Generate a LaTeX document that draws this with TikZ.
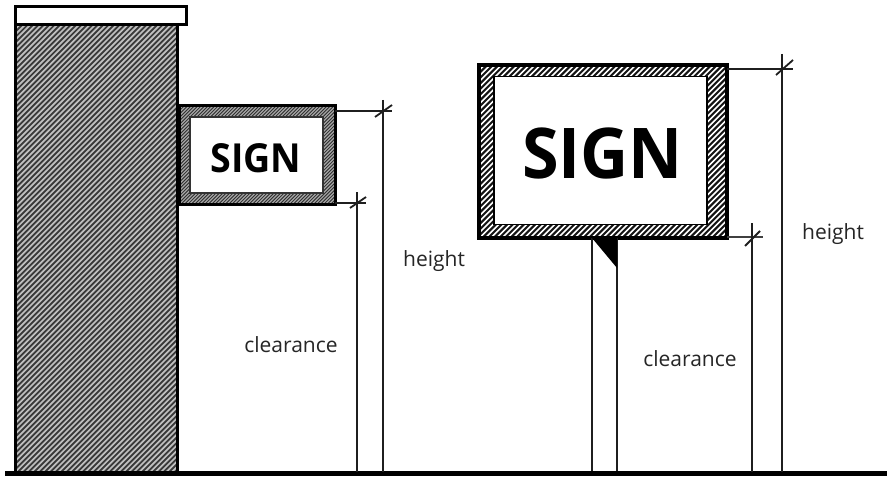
\documentclass[tikz,border=0pt]{standalone}
\usepackage{fontspec}
\setmainfont{Open Sans}
\newcommand{\hatchbox}[7]{%
  \begin{scope}
    \clip (#1,#2) rectangle (#3,#4);
    \fill[#5] (#1,#2) rectangle (#3,#4);
    \pgfmathsetmacro{\hstart}{#1-(#4-#2)}
    \pgfmathsetmacro{\hnext}{\hstart+#7}
    \foreach \hx in {\hstart,\hnext,...,#3}
      \draw[#6] (\hx,#4) -- ++(#4-#2,#2-#4);
  \end{scope}}
\tikzset{
  outline/.style={draw=black,line width=3pt},
  thinline/.style={draw=black!88,line width=1.8pt},
  signlabel/.style={inner sep=0pt},
  dimlabel/.style={font=\fontsize{21}{24}\selectfont,text=black!85,inner sep=0pt}
}
\begin{document}
\begin{tikzpicture}[x=1pt,y=-1pt]
\useasboundingbox (0,0) rectangle (890,476);
\fill[white] (0,0) rectangle (890,476);

% building
\hatchbox{15}{24}{177}{472}{black!78}{draw=black!25,line width=1.7pt}{5.4}
\draw[outline] (15,472) -- (15,24) -- (177,24) -- (177,472);
\node[draw=black,line width=3pt,fill=white,minimum width=171pt,minimum height=18pt,inner sep=0pt] (cap) at (100.5,16) {};

% left sign
\hatchbox{179}{106}{335}{204}{black!82}{draw=black!35,line width=1.2pt}{3.4}
\draw[outline] (179,106) rectangle (335,204);
\node[draw=black!80,line width=1.2pt,fill=white,minimum width=133pt,minimum height=76pt,inner sep=0pt] (signA) at (256.5,155) {};
\node[signlabel,font=\fontsize{40}{44}\bfseries\selectfont] (signAtext) at (256,158) {\scalebox{0.94}[1]{SIGN}};

% right sign
\hatchbox{479}{65}{727}{238}{black!92}{draw=white,line width=1.6pt}{5.6}
\draw[draw=black,line width=3.4pt] (479,65) rectangle (727,238);
\node[draw=black,line width=1.4pt,fill=white,minimum width=213pt,minimum height=148pt,inner sep=0pt] (signB) at (600.5,150.5) {};
\node[signlabel,font=\fontsize{70}{76}\bfseries\selectfont] (signBtext) at (602.5,153.5) {\scalebox{0.95}[1]{SIGN}};

% post
\coordinate (postLt) at (592,238);
\coordinate (postLb) at (592,472);
\coordinate (postRt) at (617,238);
\coordinate (postRb) at (617,472);
\coordinate (brace) at (617,268);
\draw[thinline] (postLt) -- (postLb);
\draw[thinline] (postRt) -- (postRb);
\fill[black] (postLt) -- (postRt) -- (brace) -- cycle;

% ground
\fill[black] (5,471) rectangle (887,476);

% dimension coordinates
\coordinate (aTop) at (335,111);
\coordinate (aTopEnd) at (392,111);
\coordinate (aHt) at (383,100);
\coordinate (aHb) at (383,472);
\coordinate (aTa) at (375,117);
\coordinate (aTb) at (392,105);
\coordinate (aBot) at (335,203);
\coordinate (aBotEnd) at (366,203);
\coordinate (aCt) at (357,192);
\coordinate (aCb) at (357,472);
\coordinate (aBa) at (350,208);
\coordinate (aBb) at (366,197);
\coordinate (bTop) at (727,69);
\coordinate (bTopEnd) at (793,69);
\coordinate (bHt) at (782,54);
\coordinate (bHb) at (782,472);
\coordinate (bTa) at (776,75);
\coordinate (bTb) at (793,60);
\coordinate (bBot) at (727,237);
\coordinate (bBotEnd) at (763,237);
\coordinate (bCt) at (752,223);
\coordinate (bCb) at (752,472);
\coordinate (bBa) at (745,246);
\coordinate (bBb) at (760,231);

\draw[thinline] (aTop) -- (aTopEnd);
\draw[thinline] (aHt) -- (aHb);
\draw[thinline] (aTa) -- (aTb);
\draw[thinline] (aBot) -- (aBotEnd);
\draw[thinline] (aCt) -- (aCb);
\draw[thinline] (aBa) -- (aBb);
\draw[thinline] (bTop) -- (bTopEnd);
\draw[thinline] (bHt) -- (bHb);
\draw[thinline] (bTa) -- (bTb);
\draw[thinline,line width=2.6pt,draw=black!75] (bBot) -- (bBotEnd);
\draw[thinline] (bCt) -- (bCb);
\draw[thinline] (bBa) -- (bBb);

% labels
\node[dimlabel] (hA) at (434,261) {height};
\node[dimlabel] (cA) at (291,344.5) {clearance};
\node[dimlabel] (cB) at (690,358.5) {clearance};
\node[dimlabel] (hB) at (833,234) {height};
\end{tikzpicture}
\end{document}
